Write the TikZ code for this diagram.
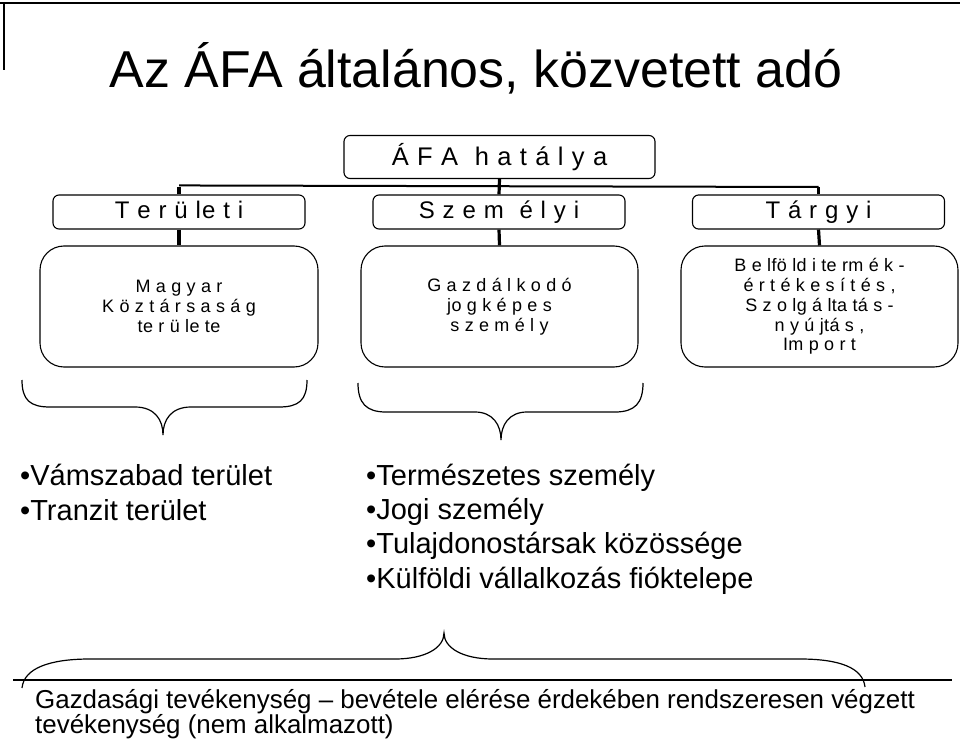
\documentclass[tikz,border=0pt]{standalone}
\usepackage{fontspec}
\setmainfont{Liberation Sans}
\newfontfamily\wideface[LetterSpace=5]{Liberation Sans}
\newfontfamily\boxface[LetterSpace=2]{Liberation Sans}
\usetikzlibrary{positioning}

\begin{document}
\begin{tikzpicture}[
    x=1pt,y=-1pt,
    head/.style={draw,rounded corners=6pt,line width=1.1pt,minimum height=34pt,minimum width=252pt,
      inner sep=0pt,text height=18pt,text depth=4pt,font=\wideface\fontsize{24}{26}\selectfont},
    big/.style={draw,rounded corners=24pt,line width=1.1pt,minimum height=121pt,minimum width=277pt,
      inner sep=0pt,align=center,font=\boxface\fontsize{18}{19.8}\selectfont,
      execute at begin node={\rule{0pt}{31pt}}},
    conn/.style={line width=3.2pt},
    bar/.style={line width=2pt},
    brace/.style={line width=1.2pt},
    item/.style={anchor=base west,inner sep=0pt,font=\fontsize{29}{34}\selectfont},
    desc/.style={anchor=base west,inner sep=0pt,font=\fontsize{25.9}{25}\selectfont}
  ]
  \useasboundingbox (0,0) rectangle (960,743);

  % frame corner
  \draw[line width=2pt] (0,3) -- (960,3);
  \draw[line width=2pt] (4,3) -- (4,70);

  \node[anchor=base,inner sep=0pt,font=\fontsize{51.9}{60}\selectfont] (title) at (476,88) {Az ÁFA általános, közvetett adó};

  % boxes
  \node[head,minimum width=311pt,minimum height=43pt,text height=21pt,text depth=3pt,
    font=\wideface\fontsize{25.5}{28}\selectfont] (scope) at (499.5,157) {Á F A \ h a t á l y a};
  \node[head] (terul) at (179,212) {T e r ü le t i};
  \node[head] (szem) at (499,212) {S z e m \ é l y i};
  \node[head] (targy) at (818.5,212) {T á r g y i};

  \node[big,minimum width=278pt] (terulx) at (179,306.5) {M a g y a r\\K ö z t á r s a s á g\\te r ü le te};
  \node[big] (szemx) at (499.5,306.5) {G a z d á l k o d ó\\jo g k é p e s\\s z e m é l y};
  \node[big] (targyx) at (819.5,306.5) {B e lfö ld i te rm é k -\\é r t é k e s í t é s ,\\S z o lg á lta tá s -\\n y ú jtá s ,\\Im p o r t};

  % tree lines
  \coordinate (fork) at (499.5,187);
  \draw[conn] (scope.south) -- (szem.north);
  \draw[bar] (terul.north) ++(0,-9) -- (targy.north |- fork);
  \draw[conn] (terul.north) -- (terul.north |- fork);
  \draw[conn] (targy.north) -- (targy.north |- fork);
  \draw[conn] (terul.south) -- (terulx.north);
  \draw[conn] (szem.south) -- (szemx.north);
  \draw[conn] (targy.south) -- (targyx.north);

  % braces
  \draw[brace] (22,380) .. controls (22,400) and (30,407) .. (50,407) -- (135,407)
    .. controls (155,407) and (163,420) .. (163,435) .. controls (163,420) and (171,407) .. (191,407)
    -- (279,407) .. controls (299,407) and (307,400) .. (307,380);
  \draw[brace] (358,383) .. controls (358,403) and (366,412) .. (386,412) -- (475,412)
    .. controls (493,412) and (501,425) .. (501,440) .. controls (501,425) and (509,412) .. (527,412)
    -- (615,412) .. controls (635,412) and (643,403) .. (643,383);
  \draw[brace] (22,688) .. controls (24,668) and (50,659) .. (90,659) -- (395,659)
    .. controls (425,659) and (444,648) .. (444,633) .. controls (444,648) and (463,659) .. (493,659)
    -- (800,659) .. controls (840,659) and (863,668) .. (865,687);
  \draw[line width=1.5pt] (13,680) -- (952,680);

  % lists
  \node[item] (zone1) at (20,485) {•Vámszabad terület};
  \node[item] (zone2) at (20,520) {•Tranzit terület};
  \foreach \txt [count=\i] in {Természetes személy,Jogi személy,Tulajdonostársak közössége,Külföldi vállalkozás fióktelepe}
    \node[item] (who\i) at (366,451+34.3*\i) {•\txt};

  \node[desc] (desc1) at (35,708) {Gazdasági tevékenység – bevétele elérése érdekében rendszeresen végzett};
  \node[desc] (desc2) at (35,733) {tevékenység (nem alkalmazott)};
\end{tikzpicture}
\end{document}
